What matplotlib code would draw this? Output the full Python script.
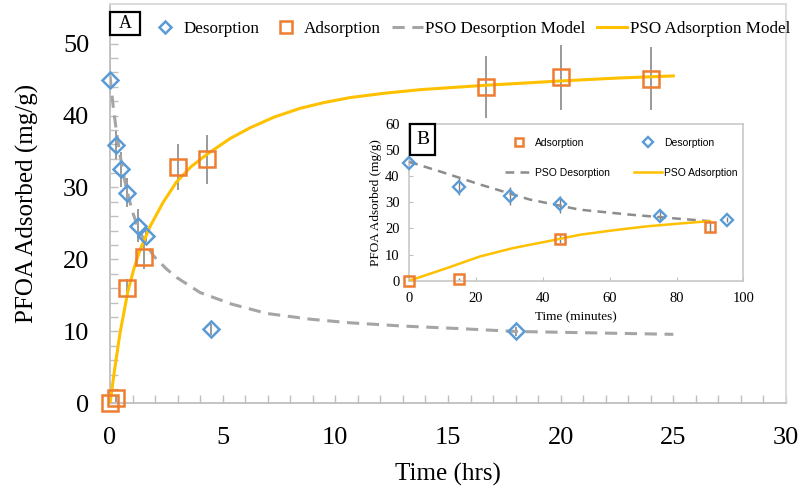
import matplotlib.pyplot as plt
from matplotlib.ticker import MultipleLocator
from matplotlib.patches import Rectangle

plt.rcParams['font.family'] = ['Liberation Serif', 'DejaVu Serif']

# ---- panel A data (time in hours) ----
des_t = [0, 0.25, 0.5, 0.75, 1.25, 1.58, 4.5, 18]
des_q = [45.0, 35.9, 32.5, 29.3, 24.7, 23.2, 10.3, 10.0]
des_err = [4.4, 2.0, 2.5, 2.0, 2.3, 0.8, 0.8, 0.6]

ads_t = [0, 0.25, 0.75, 1.5, 3, 4.3, 16.7, 20, 24]
ads_q = [0.1, 0.7, 16.0, 20.4, 32.8, 33.9, 44.0, 45.3, 45.1]
ads_err = [0.3, 0.5, 1.3, 1.7, 3.2, 3.4, 4.3, 4.5, 4.4]

pso_des_t = [0, 0.15, 0.3, 0.44, 0.6, 0.74, 1.0, 1.19, 1.5, 1.93, 2.5, 2.96,
             4.0, 5.4, 6.96, 8.9, 10.67, 13.0, 15.5, 18, 21.5, 25]
pso_des_q = [45.5, 41.0, 37.5, 34.6, 31.8, 29.7, 26.6, 24.9, 22.7, 20.5, 18.7, 17.5,
             15.4, 13.8, 12.5, 11.7, 11.2, 10.75, 10.4, 10.0, 9.8, 9.6]

pso_ads_t = [0, 0.2, 0.44, 0.79, 1.05, 1.33, 1.78, 2.37, 2.96, 3.6, 4.3, 5.33,
             6.22, 7.3, 8.44, 9.5, 10.67, 12.2, 13.8, 16.67, 20, 22.5, 25]
pso_ads_q = [0, 4.6, 9.7, 15.5, 18.6, 21.3, 24.6, 28.0, 30.8, 32.9, 34.6, 36.8,
             38.3, 39.8, 41.0, 41.8, 42.5, 43.1, 43.6, 44.2, 44.8, 45.2, 45.5]

# ---- panel B data (time in minutes) ----
in_ads_t = [0, 15, 45, 90]
in_ads_q = [0, 0.6, 15.9, 20.4]
in_ads_err = [0.5, 0.5, 1.5, 2.0]

in_des_t = [0, 15, 30, 45, 75, 95]
in_des_q = [45.2, 36.0, 32.4, 29.2, 24.7, 23.4]
in_des_err = [1.0, 3.2, 3.6, 3.2, 2.0, 1.0]

in_pso_des_t = [0, 10, 21, 36, 51, 66, 81, 90]
in_pso_des_q = [45.5, 41.5, 36.9, 31.1, 27.2, 25.3, 23.7, 22.8]

in_pso_ads_t = [0, 11.2, 21.2, 31.1, 41.1, 51.1, 61.1, 71.1, 81, 90]
in_pso_ads_q = [0, 4.8, 9.3, 12.5, 15.0, 17.6, 19.3, 20.8, 21.9, 22.8]

blue = '#5b9bd5'
orange = '#ed7d31'
gold = '#ffc000'
grey = '#a5a5a5'
errc = '#7f7f7f'
spine = '#bfbfbf'

fig = plt.figure(figsize=(8, 4.92), dpi=100)

# ---------------- main panel ----------------
ax = fig.add_axes([0.1375, 0.18, 0.845, 0.812])
ax.errorbar(des_t, des_q, yerr=des_err, fmt='none', ecolor=errc, elinewidth=1.1, zorder=2)
ax.errorbar(ads_t, ads_q, yerr=ads_err, fmt='none', ecolor=errc, elinewidth=1.1, zorder=2)
ax.plot(pso_des_t, pso_des_q, color=grey, linestyle=(0, (4, 2.5)), lw=2.2,
        label='PSO Desorption Model', zorder=3)
ax.plot(pso_ads_t, pso_ads_q, color=gold, lw=2.2, label='PSO Adsorption Model', zorder=3)
ax.plot(des_t, des_q, linestyle='none', marker='D', ms=8, mfc='none', mec=blue,
        mew=1.8, label='Desorption', zorder=4, clip_on=False)
ax.plot(ads_t, ads_q, linestyle='none', marker='s', ms=11.5, mfc='none', mec=orange,
        mew=1.8, label='Adsorption', zorder=4, clip_on=False)

ax.set_xlim(0, 30)
ax.set_ylim(0, 55.5)
ax.xaxis.set_major_locator(MultipleLocator(5))
ax.xaxis.set_minor_locator(MultipleLocator(1))
ax.yaxis.set_major_locator(MultipleLocator(10))
ax.yaxis.set_minor_locator(MultipleLocator(2))
ax.tick_params(which='both', direction='in', color=spine, width=1)
ax.tick_params(which='major', length=6, labelsize=19)
ax.tick_params(which='minor', length=6)
ax.tick_params(axis='y', pad=15)
ax.tick_params(axis='x', pad=17)
for s in ['left', 'bottom']:
    ax.spines[s].set_color(spine)
    ax.spines[s].set_linewidth(1.3)
for s in ['top', 'right']:
    ax.spines[s].set_color('#d9d9d9')
    ax.spines[s].set_linewidth(1.3)
ax.set_xlabel('Time (hrs)', fontsize=18, labelpad=10)
ax.set_ylabel('PFOA Adsorbed (mg/g)', fontsize=18, labelpad=17)

h, l = ax.get_legend_handles_labels()
order = [2, 3, 0, 1]
ax.legend([h[i] for i in order], [l[i] for i in order], ncol=4, frameon=False,
          loc='upper left', bbox_to_anchor=(150 / 800, 1 - 21 / 492),
          bbox_transform=fig.transFigure, fontsize=12.3, handlelength=1.8,
          handletextpad=0.15, columnspacing=0.65, borderpad=0, borderaxespad=0,
          markerscale=0.75)

fig.add_artist(Rectangle((110 / 800, 1 - 35 / 492), 30 / 800, 23 / 492,
                         transform=fig.transFigure, fc='white', ec='black', lw=1.6, zorder=10))
fig.text(125 / 800, 1 - 23.5 / 492, 'A', ha='center', va='center', fontsize=13, zorder=11)

# ---------------- inset panel ----------------
ix = fig.add_axes([409.3 / 800, 1 - 280.7 / 492, 334 / 800, 156.7 / 492])
ix.errorbar(in_des_t, in_des_q, yerr=in_des_err, fmt='none', ecolor=errc, elinewidth=1, zorder=2)
ix.errorbar(in_ads_t, in_ads_q, yerr=in_ads_err, fmt='none', ecolor=errc, elinewidth=1, zorder=2)
ix.plot(in_pso_des_t, in_pso_des_q, color='#8c8c8c', linestyle=(0, (3.5, 2.5)), lw=1.8,
        label='PSO Desorption', zorder=3)
ix.plot(in_pso_ads_t, in_pso_ads_q, color=gold, lw=1.8, label='PSO Adsorption', zorder=3)
ix.plot(in_ads_t, in_ads_q, linestyle='none', marker='s', ms=7.5, mfc='none', mec=orange,
        mew=1.8, label='Adsorption', zorder=4, clip_on=False)
ix.plot(in_des_t, in_des_q, linestyle='none', marker='D', ms=6.5, mfc='none', mec=blue,
        mew=1.7, label='Desorption', zorder=4, clip_on=False)
ix.set_xlim(0, 100)
ix.set_ylim(0, 60)
ix.xaxis.set_major_locator(MultipleLocator(20))
ix.yaxis.set_major_locator(MultipleLocator(10))
ix.tick_params(which='both', direction='in', color=spine, length=3, labelsize=10.5)
ix.tick_params(axis='y', pad=7)
ix.tick_params(axis='x', pad=8)
for s in ix.spines.values():
    s.set_color('#c8c8c8')
    s.set_linewidth(1.2)
ix.set_xlabel('Time (minutes)', fontsize=9.5, labelpad=5)
ix.set_ylabel('PFOA Adsorbed (mg/g)', fontsize=9.5, labelpad=2)

h2, l2 = ix.get_legend_handles_labels()
order2 = [2, 0, 3, 1]
ix.legend([h2[i] for i in order2], [l2[i] for i in order2], ncol=2, frameon=False,
          loc='upper left', bbox_to_anchor=(505 / 800, 1 - 138 / 492),
          bbox_transform=fig.transFigure, prop={'family': 'Liberation Sans', 'size': 7.5},
          handlelength=2.7, handletextpad=0.2, columnspacing=2.3, labelspacing=1.9,
          borderpad=0, borderaxespad=0, markerscale=0.75)

fig.add_artist(Rectangle((410 / 800, 1 - 155 / 492), 25 / 800, 31 / 492,
                         transform=fig.transFigure, fc='white', ec='black', lw=1.6, zorder=10))
fig.text(422.5 / 800, 1 - 139.5 / 492, 'B', ha='center', va='center', fontsize=14, zorder=11)

fig.savefig('out.png', dpi=100)
